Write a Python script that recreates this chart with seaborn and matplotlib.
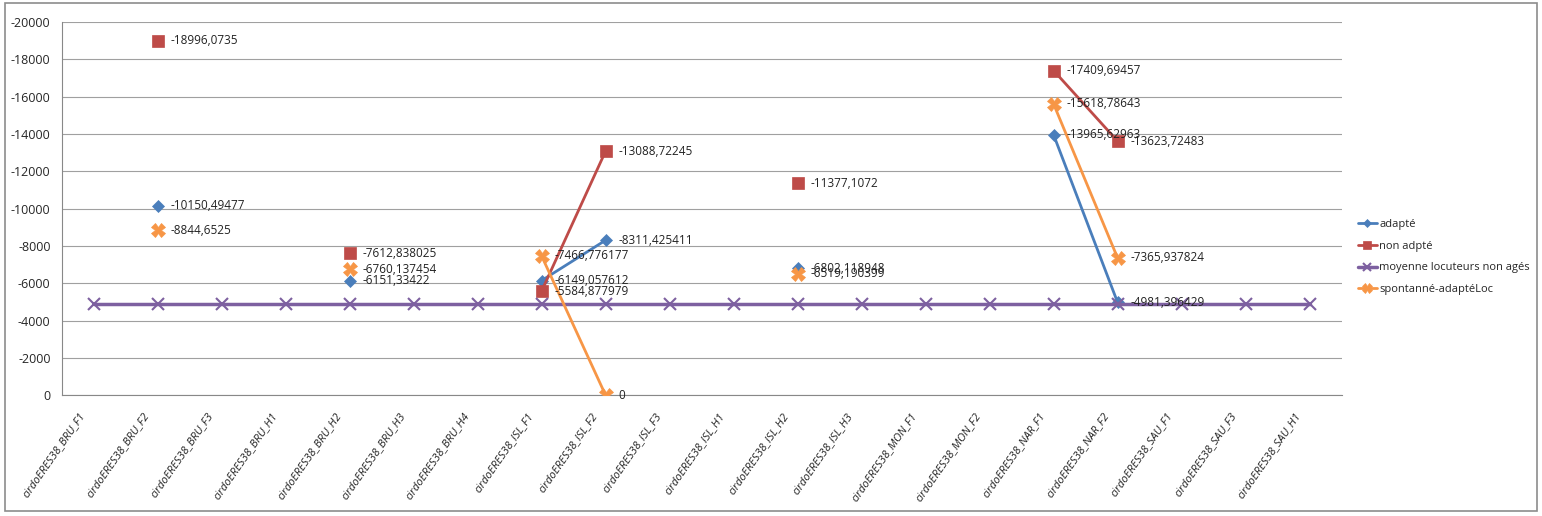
import numpy as np
import seaborn as sns
import matplotlib.pyplot as plt
from matplotlib.patches import Rectangle

# categories
speakers = ['cirdoERES38_BRU_F1', 'cirdoERES38_BRU_F2', 'cirdoERES38_BRU_F3',
            'cirdoERES38_BRU_H1', 'cirdoERES38_BRU_H2', 'cirdoERES38_BRU_H3',
            'cirdoERES38_BRU_H4', 'cirdoERES38_ISL_F1', 'cirdoERES38_ISL_F2',
            'cirdoERES38_ISL_F3', 'cirdoERES38_ISL_H1', 'cirdoERES38_ISL_H2',
            'cirdoERES38_ISL_H3', 'cirdoERES38_MON_F1', 'cirdoERES38_MON_F2',
            'cirdoERES38_NAR_F1', 'cirdoERES38_NAR_F2', 'cirdoERES38_SAU_F1',
            'cirdoERES38_SAU_F3', 'cirdoERES38_SAU_H1']

nan = np.nan
adapte = [nan, -10150.49477, nan, nan, -6151.33422, nan, nan, -6149.057612,
          -8311.425411, nan, nan, -6802.118948, nan, nan, nan, -13965.62963,
          -4981.396429, nan, nan, nan]
non_adapte = [nan, -18996.0735, nan, nan, -7612.838025, nan, nan, -5584.877979,
              -13088.72245, nan, nan, -11377.1072, nan, nan, nan, -17409.69457,
              -13623.72483, nan, nan, nan]
moyenne = [-4880] * 20
spontane = [nan, -8844.6525, nan, nan, -6760.137454, nan, nan, -7466.776177,
            0, nan, nan, -6519.190399, nan, nan, nan, -15618.78643,
            -7365.937824, nan, nan, nan]

series = [
    ('adapté', adapte, '#4A7EBB', 'D', 6, True),
    ('non adpté', non_adapte, '#BE4B48', 's', 8, True),
    ('moyenne locuteurs non agés', moyenne, '#7D60A0', 'x', 9, False),
    ('spontanné-adaptéLoc', spontane, '#F79646', 'X', 10, True),
]

sns.set_style('white')
plt.rcParams['font.family'] = ['Open Sans', 'DejaVu Sans']

fig = plt.figure(figsize=(15.42, 5.16), dpi=100)
ax = fig.add_axes([0.040, 0.234, 0.830, 0.723])

x = np.arange(len(speakers))
for name, vals, color, marker, ms, labels in series:
    lw = 2.5 if marker == 'x' else 2
    ax.plot(x, vals, color=color, marker=marker, markersize=ms, lw=lw,
            label=name, mew=1.5 if marker == 'x' else 0.5, zorder=3)
    if labels:
        for xi, v in zip(x, vals):
            if not np.isnan(v):
                txt = f'{v:.10g}'.replace('.', ',')
                ax.annotate(txt, (xi, v), xytext=(9, 0), textcoords='offset points',
                            va='center', ha='left', fontsize=8.5, color='#222222',
                            zorder=4)

ax.set_xlim(-0.5, len(speakers) - 0.5)
ax.set_ylim(0, -20000)
ax.set_yticks(np.arange(0, -20001, -2000))
ax.set_yticklabels([f'{t:d}' for t in np.arange(0, -20001, -2000)], fontsize=9)
ax.yaxis.grid(True, color='#A0A0A0', lw=0.8)
ax.set_axisbelow(True)

# category labels, rotated like the spreadsheet axis
ax.set_xticks(x)
ax.set_xticklabels([])
for xi, name in zip(x, speakers):
    ax.annotate(name, (xi, 0), xytext=(-11, -11), textcoords='offset points',
                rotation=55, ha='right', va='top', rotation_mode='anchor',
                fontsize=8, style='italic', color='#222222', annotation_clip=False)
ax.set_xticks(np.arange(-0.5, len(speakers), 1), minor=True)
ax.tick_params(axis='x', which='major', length=0)
ax.tick_params(axis='x', which='minor', length=5, color='#888888', direction='out')
ax.tick_params(axis='y', length=5, color='#888888', direction='out', pad=3)

for side in ['top', 'right']:
    ax.spines[side].set_visible(False)
for side in ['left', 'bottom']:
    ax.spines[side].set_color('#888888')
    ax.spines[side].set_linewidth(0.8)

ax.legend(loc='center left', bbox_to_anchor=(1.005, 0.37), frameon=False,
          fontsize=8, handlelength=1.7, handletextpad=0.2, labelspacing=0.95,
          markerscale=0.65)

fig.patches.append(Rectangle((0.003, 0.01), 0.994, 0.985, transform=fig.transFigure,
                             fill=False, edgecolor='#8C8C8C', lw=1.2))

fig.savefig('out.png', dpi=100)
